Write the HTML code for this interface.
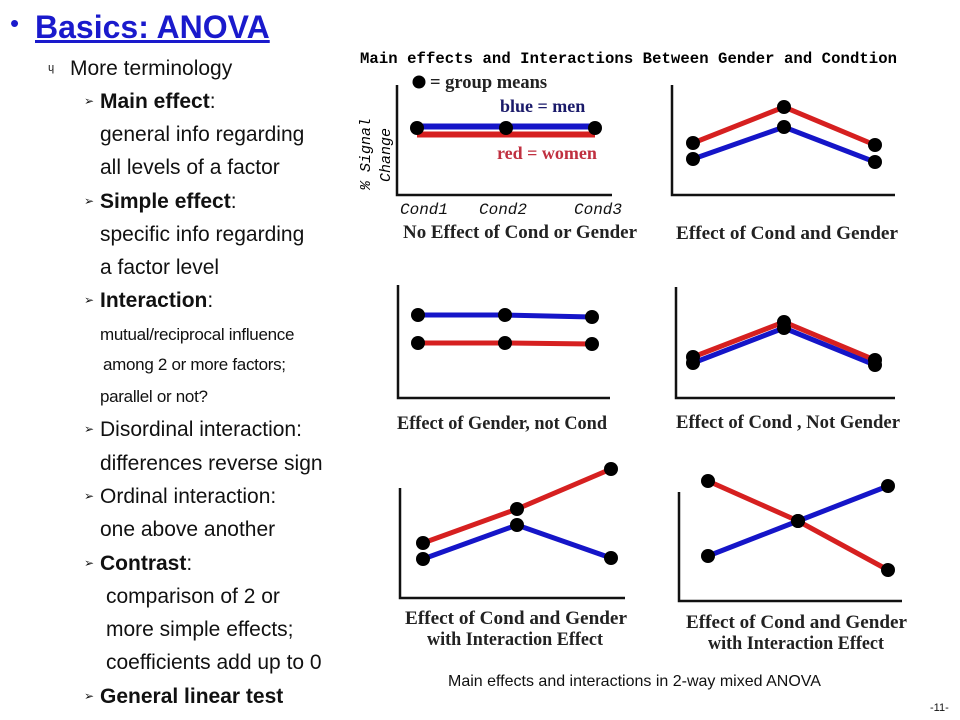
<!DOCTYPE html>
<html><head><meta charset="utf-8"><style>
body{margin:0;width:960px;height:720px;background:#fff;position:relative;overflow:hidden;font-family:"Liberation Sans",sans-serif}
.t{position:absolute;white-space:nowrap;color:#111;font-size:21px;line-height:1}
.s{font-size:17px;letter-spacing:-0.3px}
.b{font-weight:bold}
.ar{position:absolute;font-size:12px;color:#111}
</style></head><body>
<div class="t" style="left:10px;top:10px;font-size:26px;color:#1a1acc">•</div>
<div class="t b" style="left:35px;top:11px;font-size:32px;color:#1a1acc;text-decoration:underline">Basics: ANOVA</div>
<div class="t" style="left:48px;top:63px;font-size:11px">ɥ</div>
<div class="t" style="left:70px;top:58px">More terminology</div>
<div id="lines"></div>
<svg id="chart" width="960" height="720" style="position:absolute;left:0;top:0">
<text x="360" y="63" font-family="Liberation Mono" font-weight="bold" font-size="15.6" textLength="537">Main effects and Interactions Between Gender and Condtion</text>
</svg>
<div class="t" style="left:448px;top:674px;font-size:16px">Main effects and interactions in 2-way mixed ANOVA</div>
<div class="t" style="left:930px;top:703px;font-size:11px">-11-</div>
<script>
const textLines=[
["Main effect",":",100,true,false,86],
["general info regarding","",133,false,false,100],
["all levels of a factor","",166,false,false,100],
["Simple effect",":",200,true,false,86],
["specific info regarding","",233,false,false,100],
["a factor level","",266,false,false,100],
["Interaction",":",299,true,false,86],
["mutual/reciprocal influence","",333,false,true,100],
["among 2 or more factors;","",363,false,true,103],
["parallel or not?","",395,false,true,100],
["Disordinal interaction:","",428,false,false,86],
["differences reverse sign","",462,false,false,100],
["Ordinal interaction:","",495,false,false,86],
["one above another","",528,false,false,100],
["Contrast",":",562,true,false,86],
["comparison of 2 or","",595,false,false,106],
["more simple effects;","",628,false,false,106],
["coefficients add up to 0","",661,false,false,106],
["General linear test","",695,true,false,86]];
const L=document.getElementById('lines');
textLines.forEach((r,i)=>{
 const arrow=r[5]===86;
 if(arrow){const a=document.createElement('div');a.className='ar';a.style.left='84px';a.style.top=(r[2]-6)+'px';a.textContent='➢';
 
 
 L.appendChild(a);}
 const d=document.createElement('div');d.className='t'+(r[4]?' s':'');
 d.style.left=(arrow?100:r[5])+'px';d.style.top=(r[2]-(r[4]?7:9))+'px';
 d.innerHTML=(r[3]?'<b>'+r[0]+'</b>':r[0])+r[1];
 
 
 L.appendChild(d);
});
// panel data (arbitrary % signal units)
const conds=["Cond1","Cond2","Cond3"];
const blue1=[6.7,6.7,6.7], red1=[6.2,6.2,6.2];
const blue2=[3.6,6.8,3.3], red2=[5.2,8.8,5.0];
const blue3=[8.3,8.3,8.1], red3=[5.5,5.5,5.4];
const blue4=[3.5,7.0,3.3], red4=[4.1,7.6,3.8];
const blue5=[3.9,7.3,4.0], red5=[5.5,8.9,12.9];
const blue6=[4.5,8.0,11.5], red6=[12.0,8.0,3.1];
const panelLabels=[["No Effect of Cond  or Gender"],["Effect of  Cond  and Gender"],["Effect of Gender, not Cond"],["Effect of  Cond , Not Gender"],["Effect of Cond  and Gender","with Interaction Effect"],["Effect of  Cond  and Gender","with Interaction Effect"]];
const labelW=[[234],[222],[210],[224],[222,176],[221,176]];
const panels=[
 {ax:397,top:85,bot:195,right:612,x0:417,step:89,blue:blue1,red:red1,lx:403,ly:238},
 {ax:672,top:85,bot:195,right:895,x0:693,step:91,blue:blue2,red:red2,lx:676,ly:239},
 {ax:398,top:285,bot:398,right:610,x0:418,step:87,blue:blue3,red:red3,lx:397,ly:429},
 {ax:676,top:287,bot:398,right:895,x0:693,step:91,blue:blue4,red:red4,lx:676,ly:428},
 {ax:400,top:488,bot:598,right:625,x0:423,step:94,blue:blue5,red:red5,lx:405,ly:624},
 {ax:679,top:492,bot:601,right:902,x0:708,step:90,blue:blue6,red:red6,lx:686,ly:628}];
const S=document.getElementById('chart'),NS='http://www.w3.org/2000/svg';
function mk(t,a,name){const e=document.createElementNS(NS,t);for(const k in a)e.setAttribute(k,a[k]);
 
 
 S.appendChild(e);return e;}
panels.forEach((p,i)=>{
 const xs=j=>p.x0+j*p.step, ys=v=>p.bot-v*10;
 mk('path',{d:`M${p.ax},${p.top}V${p.bot}H${p.right}`,fill:'none',stroke:'#111','stroke-width':2.5},'axes-'+(i+1));
 const ser=i===0?[['red',p.red,'#d62020',1.5],['blue',p.blue,'#1515c8',-1.5]]:(i===3||i===1||i===5?[['blue',p.blue,'#1515c8',0],['red',p.red,'#d62020',0]]:[['red',p.red,'#d62020',0],['blue',p.blue,'#1515c8',0]]);
 ser.forEach(([n,vals,c,off])=>{
  mk('polyline',{points:vals.map((v,j)=>xs(j)+','+(ys(v)+off)).join(' '),fill:'none',stroke:c,'stroke-width':i===0?6:5},n+'-line-'+(i+1));
 });
 ser.forEach(([n,vals])=>vals.forEach((v,j)=>{
  if(i===0&&n==='red')return;
  mk('circle',{cx:xs(j),cy:ys(v),r:7,fill:'#000'},n+'-point-'+(i+1)+'-'+conds[j]);
 }));
 panelLabels[i].forEach((s,k)=>{
  const t=mk('text',{x:p.lx+(k?22:0),y:p.ly+k*21,'font-family':'Liberation Serif','font-weight':'bold','font-size':18.5,fill:'#222',textLength:labelW[i][k],lengthAdjust:'spacingAndGlyphs'},'panel-label-'+(i+1));
  t.textContent=s;
 });
});
// panel 1 extras
conds.forEach((c,j)=>{const t=mk('text',{x:[400,479,574][j],y:214,'font-family':'Liberation Mono','font-style':'italic','font-size':16,fill:'#111'},'x-label-'+c);t.textContent=c;});
let t=mk('text',{x:0,y:0,'font-family':'Liberation Mono','font-style':'italic','font-size':15,transform:'translate(370,190) rotate(-90)'},'y-axis-title');t.textContent='% Signal';
t=mk('text',{x:0,y:0,'font-family':'Liberation Mono','font-style':'italic','font-size':15,transform:'translate(390,182) rotate(-90)'},'y-axis-title-2');t.textContent='Change';
mk('circle',{cx:419,cy:82,r:6.5,fill:'#000'},'legend-dot');
t=mk('text',{x:430,y:88,'font-family':'Liberation Serif','font-weight':'bold','font-size':18.5,fill:'#222'},'legend-group-means');t.textContent='= group means';
t=mk('text',{x:500,y:112,'font-family':'Liberation Serif','font-weight':'bold','font-size':18,fill:'#1a1a6a'},'legend-blue-men');t.textContent='blue = men';
t=mk('text',{x:497,y:159,'font-family':'Liberation Serif','font-weight':'bold','font-size':18,fill:'#c03040'},'legend-red-women');t.textContent='red = women';
</script>
</body></html>
